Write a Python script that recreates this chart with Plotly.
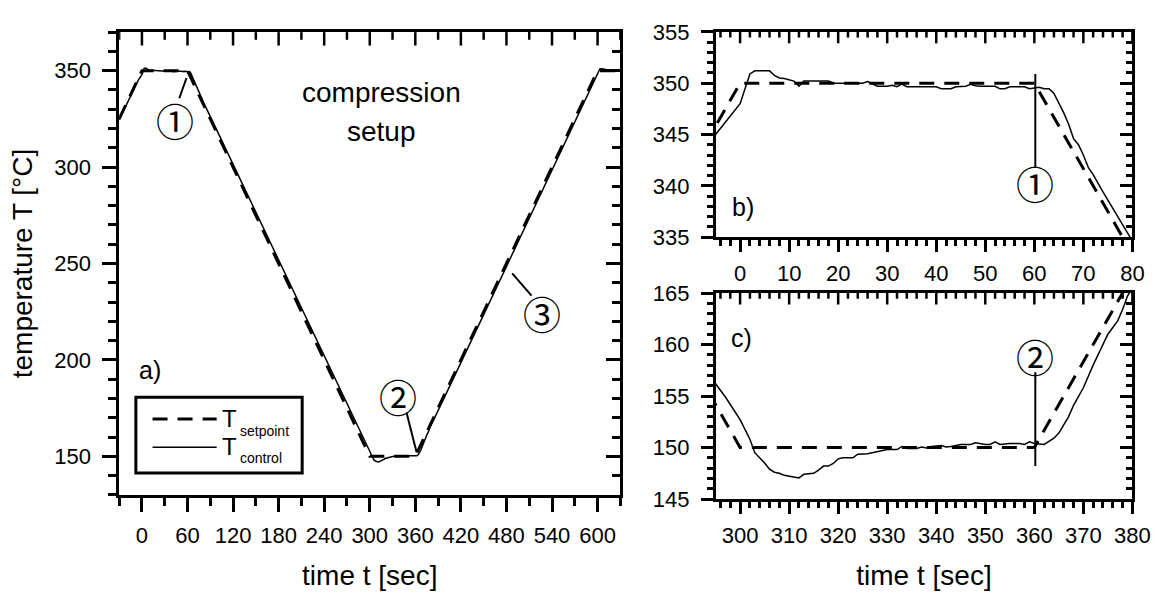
import numpy as np
import plotly.graph_objects as go

# ---------------- data ----------------
t_set = [-30, 0, 60, 300, 360, 600, 630]
T_set = [325, 350, 350, 150, 150, 350, 350]

t_ctl = [-30, -20, -10, -5, 0, 2, 3, 6, 7, 8, 9, 10, 11, 12, 13, 15, 18, 19, 25, 26,
         27, 28, 30, 31, 32, 33, 34, 40, 41, 43, 44, 46, 47, 48, 49, 52, 53, 54, 55, 58,
         59, 61, 62, 63, 64, 65, 66, 67, 68, 69, 70, 71, 72, 74, 76, 77, 78, 79, 82, 100,
         150, 200, 250, 280, 290, 295, 297, 300, 302, 303, 305, 306, 307, 308, 309, 310, 312, 313, 315, 316,
         317, 318, 319, 320, 321, 323, 324, 326, 327, 330, 332, 333, 334, 336, 337, 338, 339, 341, 342, 343,
         345, 347, 348, 350, 351, 352, 353, 355, 357, 358, 359, 360, 362, 364, 365, 366, 367, 368, 370, 372,
         374, 375, 377, 378, 379, 382, 400, 450, 500, 550, 590, 597, 600, 603, 606, 610, 615, 620, 630]
T_ctl = [324.5, 333.0, 341.0, 345.0, 348.0, 350.9, 351.2, 351.2, 350.75, 350.5, 350.45, 350.3, 350.2, 349.7, 350.2, 350.2, 350.2, 350.0, 350.0, 350.15,
         349.9, 349.7, 349.7, 349.8, 349.65, 349.9, 349.65, 349.65, 349.45, 349.45, 349.65, 349.7, 349.9, 349.75, 349.7, 349.7, 349.45, 349.45, 349.65, 349.65,
         349.45, 349.6, 349.45, 349.45, 349.0, 348.1, 347.1, 346.0, 344.6, 344.0, 343.0, 341.8, 341.1, 339.4, 337.7, 336.9, 336.1, 335.2, 332.8, 318.0,
         276.5, 235.0, 193.5, 168.5, 160.5, 156.2, 154.9, 152.7, 150.8, 149.5, 148.5, 147.9, 147.6, 147.5, 147.3, 147.2, 147.05, 147.4, 147.5, 147.8,
         148.2, 148.2, 148.45, 148.9, 149.0, 149.0, 149.35, 149.4, 149.5, 149.8, 149.8, 150.1, 149.9, 149.9, 150.05, 149.95, 150.1, 150.2, 150.05, 150.1,
         150.3, 150.3, 150.45, 150.3, 150.3, 150.55, 150.3, 150.4, 150.4, 150.3, 150.55, 150.4, 150.3, 150.9, 151.4, 152.2, 153.0, 154.1, 155.8, 158.0,
         159.9, 161.0, 162.3, 163.4, 164.7, 167.3, 182.0, 223.5, 265.2, 306.8, 340.2, 346.5, 349.3, 350.9, 351.0, 350.5, 350.2, 350.0, 350.0]

# axis ranges / ticks
x_ranges = [[-30, 630], [-5, 80], [295, 380]]
y_ranges = [[130, 370], [335, 355], [145, 165]]
x_tick0 = [0, 0, 300]
x_dtick = [60, 10, 10]
x_minor = [30, 2, 2]
y_dtick = [50, 5, 5]
y_minor = [10, 1, 1]
y_tick0 = [150, 335, 145]

# text
x_title = "time t [sec]"
y_title = "temperature T [°C]"
panel_labels = ["a)", "b)", "c)"]
panel_label_pos = [(11, 195), (0.6, 337.9), (300.3, 160.6)]
note_lines = ["compression", "setup"]
note_pos = [(316, 338.5), (316, 318.5)]
legend_names = ["setpoint", "control"]

# circled markers: (text, axis index, x, y)
circles = [("①", 0, 43, 324.6), ("②", 0, 337.7, 181.8), ("③", 0, 526.4, 224.8),
           ("①", 1, 60.2, 340.3), ("②", 2, 360.2, 158.9)]
# leader lines: (axis index, x0, y0, x1, y1)
leaders = [(0, 49.2, 335.7, 58.7, 346.2), (0, 348.4, 172.7, 361.6, 152.3),
           (0, 487.6, 244.9, 513, 233.3), (1, 60.2, 350.9, 60.2, 341.8),
           (2, 360.2, 157.3, 360.2, 148.2)]

W, H = 1176, 597
# pixel boxes of the three panels (left, right, top, bottom)
boxes = [(121, 630, 21, 504), (726.7, 1150, 20.7, 235), (726.7, 1150, 293.3, 508.3)]

FONT = "Liberation Sans, Arial, sans-serif"
DASH = "15px,10px"

fig = go.Figure()

main = [("x", "y"), ("x2", "y2"), ("x3", "y3")]
right_y = ["y4", "y5", "y6"]

for i in range(3):
    xa, ya = main[i]
    fig.add_trace(go.Scatter(x=t_set, y=T_set, xaxis=xa, yaxis=ya, mode="lines",
                             line=dict(color="black", width=3, dash=DASH),
                             name="T setpoint", showlegend=False, hoverinfo="skip"))
    fig.add_trace(go.Scatter(x=t_ctl, y=T_ctl, xaxis=xa, yaxis=ya, mode="lines",
                             line=dict(color="black", width=1.5),
                             name="T control", showlegend=False, hoverinfo="skip"))
    fig.add_trace(go.Scatter(x=t_set, y=T_set, xaxis=xa, yaxis=right_y[i], mode="lines",
                             line=dict(color="rgba(0,0,0,0)", width=1),
                             showlegend=False, hoverinfo="skip"))

layout = dict(width=W, height=H, margin=dict(l=0, r=0, t=0, b=0),
              paper_bgcolor="white", plot_bgcolor="white", showlegend=False,
              font=dict(family=FONT, color="black"))

def tick_axis(rng, t0, dt, mdt, side, kind, maj, mnr):
    return dict(range=rng, tick0=t0, dtick=dt, side=side, ticks=kind, ticklen=maj,
                tickwidth=2.5, tickcolor="black",
                minor=dict(dtick=mdt, ticks=kind, ticklen=mnr, tickwidth=2.5,
                           tickcolor="black", showgrid=False),
                showgrid=False, zeroline=False)

shapes = []
for i in range(3):
    l, r, t, b = boxes[i]
    xd = [l / W, r / W]
    yd = [1 - b / H, 1 - t / H]
    maj = 14 if i == 0 else 12
    mnr = 8 if i == 0 else 6
    sfx = "" if i == 0 else str(i + 1)

    # bottom x axis with labels (box line mirrored to the top)
    bot = tick_axis(x_ranges[i], x_tick0[i], x_dtick[i], x_minor[i], "bottom", "outside", maj, mnr)
    bot.update(domain=xd, anchor="y" + sfx, showline=True, linewidth=2.5, linecolor="black",
               mirror=True, tickfont=dict(size=22, family=FONT),
               ticklabelstandoff=5 if i == 0 else 3)
    if i != 1:
        bot["title"] = dict(text=x_title, font=dict(size=28, family=FONT), standoff=19)
    layout["xaxis" + sfx] = bot

    # left y axis with labels
    left = tick_axis(y_ranges[i], y_tick0[i], y_dtick[i], y_minor[i], "left", "outside", maj, mnr)
    left.update(domain=yd, anchor="x" + sfx, showline=True, linewidth=2.5, linecolor="black",
                mirror=True, tickfont=dict(size=22, family=FONT), ticklabelstandoff=7)
    if i == 0:
        left["title"] = dict(text=y_title, font=dict(size=28, family=FONT), standoff=14)
    layout["yaxis" + sfx] = left

    # right edge (overlay): inward ticks
    rgt = tick_axis(y_ranges[i], y_tick0[i], y_dtick[i], y_minor[i], "right", "inside", maj, mnr)
    rgt.update(domain=yd, overlaying="y" + sfx, anchor="x" + sfx, showticklabels=False,
               showline=False)
    layout["yaxis" + right_y[i][1:]] = rgt

    # top edge: inward ticks at the same positions as the bottom axis ticks
    plot_h = b - t
    lo, hi = x_ranges[i]
    minor_vals = np.arange(np.ceil((lo - x_tick0[i]) / x_minor[i]) * x_minor[i] + x_tick0[i],
                           hi + 1e-9, x_minor[i])
    for v in minor_vals:
        is_major = abs(((v - x_tick0[i]) / x_dtick[i]) - round((v - x_tick0[i]) / x_dtick[i])) < 1e-9
        length = maj if is_major else mnr
        shapes.append(dict(type="line", xref="x" + sfx, yref="y" + sfx + " domain",
                           x0=float(v), x1=float(v), y0=1, y1=1 - length / plot_h,
                           line=dict(color="black", width=2.5), layer="above"))

fig.update_layout(**layout)

def refs(i):
    sfx = "" if i == 0 else str(i + 1)
    return "x" + sfx, "y" + sfx

anns = []
for i, lab in enumerate(panel_labels):
    xr, yr = refs(i)
    anns.append(dict(text=lab, x=panel_label_pos[i][0], y=panel_label_pos[i][1], xref=xr, yref=yr,
                     showarrow=False, font=dict(size=25, family=FONT)))
for k, line in enumerate(note_lines):
    anns.append(dict(text=line, x=note_pos[k][0], y=note_pos[k][1], xref="x", yref="y",
                     showarrow=False, font=dict(size=28, family=FONT)))
for txt, i, cx, cy in circles:
    xr, yr = refs(i)
    anns.append(dict(text=txt, x=cx, y=cy, xref=xr, yref=yr, showarrow=False,
                     font=dict(size=38, family="Noto Sans CJK JP")))

for i, x0, y0, x1, y1 in leaders:
    xr, yr = refs(i)
    shapes.append(dict(type="line", xref=xr, yref=yr, x0=x0, y0=y0, x1=x1, y1=y1,
                       line=dict(color="black", width=2)))

# legend (drawn in panel a coordinates)
shapes.append(dict(type="rect", xref="x", yref="y", x0=-8, x1=211, y0=141.4, y1=180.7,
                   line=dict(color="black", width=3), fillcolor="white", layer="above"))
leg_y = [169.3, 154.7]
leg_sub_y = [163.3, 148.9]
leg_dash = [DASH, "solid"]
leg_w = [3, 1.5]
for k in range(2):
    shapes.append(dict(type="line", xref="x", yref="y", x0=14, x1=98.4, y0=leg_y[k], y1=leg_y[k],
                       line=dict(color="black", width=leg_w[k], dash=leg_dash[k])))
    anns.append(dict(text="T", x=115.6, y=leg_y[k] + 0.5, xref="x", yref="y", showarrow=False,
                     font=dict(size=24, family=FONT)))
    anns.append(dict(text=legend_names[k], x=126.5, y=leg_sub_y[k], xref="x", yref="y",
                     xanchor="left", showarrow=False, font=dict(size=14, family=FONT)))

fig.update_layout(annotations=anns, shapes=shapes)
fig.write_html("out.html")
